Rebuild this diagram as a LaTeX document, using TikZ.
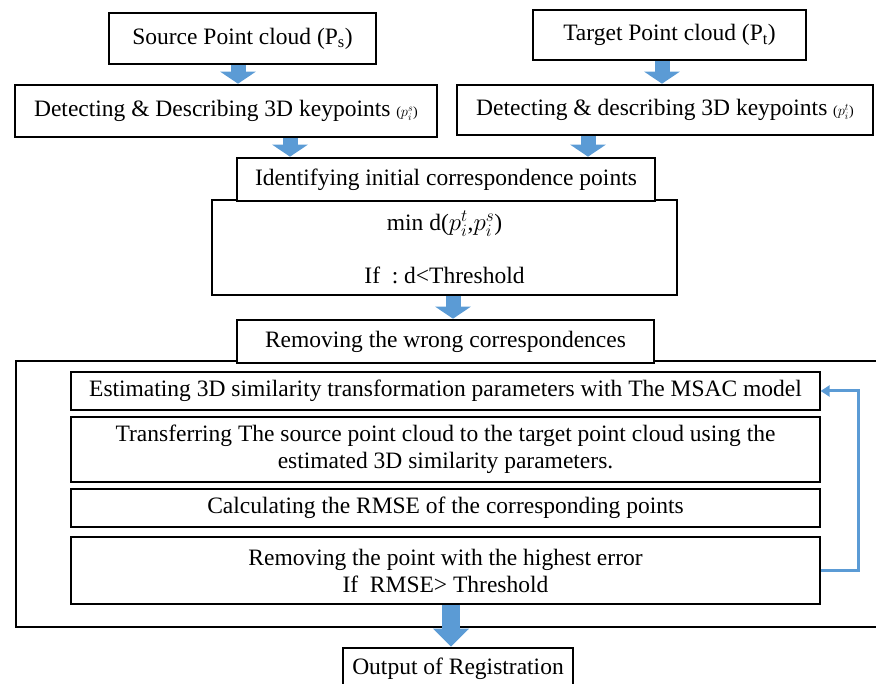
\documentclass[tikz,border=0pt]{standalone}
\usepackage{fontspec}
\setmainfont{Liberation Serif}
\usepackage{tikz}
\usetikzlibrary{arrows.meta}
\definecolor{flowblue}{RGB}{91,155,213}

\begin{document}
\begin{tikzpicture}[x=1pt,y=-1pt,
    every node/.style={font=\fontsize{23.5}{27}\selectfont},
    boldbox/.style={draw,line width=2.6pt,inner sep=0pt,align=center},
    thinbox/.style={draw,line width=1.2pt,inner sep=0pt,align=center},
    blockarrow/.style={flowblue,line width=15pt,-{Triangle[width=35pt,length=12pt]}},
    bigarrow/.style={flowblue,line width=18pt,-{Triangle[width=35pt,length=18pt]}},
    feedback/.style={flowblue,line width=3pt,-{Triangle[width=11pt,length=9pt]}}]
                \useasboundingbox (0,0) rectangle (876,684);

                % inputs
                \node[boldbox,minimum width=267pt,minimum height=51pt] (src) at (242.5,38.5) {Source Point cloud (P\textsubscript{s})};
                \node[boldbox,minimum width=273pt,minimum height=50pt] (tgt) at (669.5,35) {Target Point cloud (P\textsubscript{t})};

                \node[boldbox,minimum width=422pt,minimum height=52pt] (detS) at (226,111) {Detecting \& Describing 3D keypoints {\fontsize{14}{14}\selectfont($p^s_i$)}};
                \node[boldbox,minimum width=416pt,minimum height=50pt] (detT) at (665,110) {Detecting \& describing 3D keypoints {\fontsize{14}{14}\selectfont($p^t_i$)}};

                % correspondences
                \node[thinbox,minimum width=465pt,minimum height=95pt] (mind) at (444.5,247.5) {min d($p_i^t$,$p_i^s$)\\[26pt]If\ \ :\ d<Threshold};
                \node[boldbox,fill=white,minimum width=418pt,minimum height=43pt] (ident) at (446,179.5) {Identifying initial correspondence points};

                \node[thinbox,minimum width=862pt,minimum height=266pt] (frame) at (447,494) {};
                \node[boldbox,fill=white,minimum width=417pt,minimum height=43pt] (wrong) at (445.5,341.5) {Removing the wrong correspondences};

                % loop
                \node[thinbox,minimum width=749pt,minimum height=38pt] (est) at (445.5,391) {Estimating 3D similarity transformation parameters with The MSAC model};
                \node[thinbox,minimum width=749pt,minimum height=65pt] (trans) at (445.5,449.5) {Transferring The source point cloud to the target point cloud using the\\estimated 3D similarity parameters.};
                \node[thinbox,minimum width=749pt,minimum height=38pt] (calc) at (445.5,508) {Calculating the RMSE of the corresponding points};
                \node[thinbox,minimum width=749pt,minimum height=67pt] (remp) at (445.5,570.5) {Removing the point with the highest error\\If\ \ RMSE> Threshold};

                \node[boldbox,minimum width=230pt,minimum height=42pt] (out) at (458,669) {Output of Registration};

                % arrows
                \draw[blockarrow] (src.south -| 238,0) -- (detS.north -| 238,0);
                \draw[blockarrow] (tgt.south -| 662,0) -- (detT.north -| 662,0);
                \draw[blockarrow] (detS.south -| 290,0) -- (ident.north -| 290,0);
                \draw[blockarrow] (detT.south -| 588,0) -- (ident.north -| 588,0);
                \draw[blockarrow] (mind.south -| 453,0) -- (wrong.north -| 453,0);
                \draw[bigarrow] (remp.south -| 451,0) -- (out.north -| 451,0);

                \draw[feedback] (remp.east) -- ++(38,0) |- (est.east);
            \end{tikzpicture}
\end{document}
